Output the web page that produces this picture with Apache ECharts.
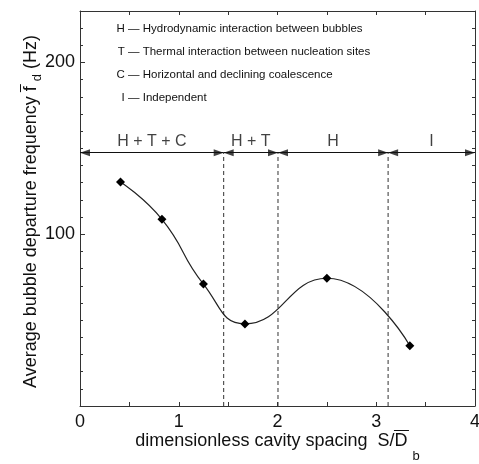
<!DOCTYPE html>
<html>
<head>
<meta charset="utf-8">
<script src="https://cdn.jsdelivr.net/npm/echarts@6/dist/echarts.min.js"></script>
<style>
  html, body { margin: 0; padding: 0; background: #fff; }
  #chart { width: 479px; height: 464px; }
</style>
</head>
<body>
<div id="chart"></div>
<script>
// Measured bubble departure frequency against dimensionless cavity spacing
const spacing   = [0.41, 0.83, 1.25, 1.67, 2.50, 3.34];
const frequency = [130.5, 108.7, 71.0, 47.8, 74.4, 35.1];

// Interaction regimes: boundaries along S/D and their labels
const boundaries   = [1.455, 2.005, 3.12];
const regionLabels = ['H + T + C', 'H + T', 'H', 'I'];
const regionLevel  = 147.5;

// Key to the regime abbreviations
const noteKeys  = ['H', 'T', 'C', 'I'];
const noteTexts = [
  '— Hydrodynamic interaction between bubbles',
  '— Thermal interaction between nucleation sites',
  '— Horizontal and declining coalescence',
  '— Independent'
];

// Axis ranges and labelled ticks
const xRange = [0, 4];
const yRange = [0, 230];
const xLabelTicks = [0, 1, 2, 3, 4];
const yLabelTicks = [100, 200];

const FONT = '"Liberation Sans", Arial, Helvetica, sans-serif';
const INK = '#111';

const chart = echarts.init(document.getElementById('chart'), null, { renderer: 'canvas' });

const edges = [xRange[0], ...boundaries, xRange[1]];
const regionMid = regionLabels.map((_, i) => [(edges[i] + edges[i + 1]) / 2, regionLevel]);
const spanData = regionLabels.map((_, i) => [
  { coord: [edges[i], regionLevel] },
  { coord: [edges[i + 1], regionLevel] }
]);
// arrowheads: each span points left at its start and right at its end
const headsLeft  = edges.slice(0, -1).map(x => [x, regionLevel]);
const headsRight = edges.slice(1).map(x => [x, regionLevel]);
const HEAD = [7, 10];

// text measurement for composing titles with overbars and subscripts
const mctx = document.createElement('canvas').getContext('2d');
function measure(text, size) {
  mctx.font = size + 'px ' + FONT;
  return mctx.measureText(text).width;
}
function txt(text, x, y, size, align) {
  return {
    type: 'text', x: x, y: y, silent: true,
    style: { text: text, font: size + 'px ' + FONT, fill: INK, align: align || 'left', verticalAlign: 'middle' }
  };
}
function bar(x1, x2, y) {
  return { type: 'line', silent: true, shape: { x1: x1, y1: y, x2: x2, y2: y }, style: { stroke: INK, lineWidth: 1 } };
}

const gridBox = { left: 80, right: 4, top: 11, bottom: 58 };
const W = 479, H = 464;

// x-axis title: dimensionless cavity spacing  S/D̄ b
const xt = { main: 'dimensionless cavity spacing  S/', barred: 'D', sub: 'b' };
const xs = 18, xsubs = 13;
const xw1 = measure(xt.main, xs), xwD = measure(xt.barred, xs), xwsp = measure(' ', xs), xwb = measure(xt.sub, xsubs);
const xTot = xw1 + xwD + xwsp + xwb;
const xCenter = gridBox.left + (W - gridBox.left - gridBox.right) / 2;
const x0 = xCenter - xTot / 2;
const xY = 441;
const xTitle = [
  txt(xt.main, x0, xY, xs),
  txt(xt.barred, x0 + xw1, xY, xs),
  bar(x0 + xw1 - 0.5, x0 + xw1 + xwD + 1.5, xY - 10.5),
  txt(xt.sub, x0 + xw1 + xwD + xwsp, xY + 15, xsubs)
];

// y-axis title: Average bubble departure frequency f̄ d (Hz)
const yt = { main: 'Average bubble departure frequency ', barred: 'f', sub: 'd', tail: ' (Hz)' };
const ys = 18, ysubs = 13;
const yw1 = measure(yt.main, ys), ywf = measure(yt.barred, ys), ywsp = measure(' ', ys), ywd = measure(yt.sub, ysubs);
const ywt = measure(yt.tail, ys);
const yTot = yw1 + ywf + ywsp + ywd + ywt;
const yCenter = gridBox.top + (H - gridBox.top - gridBox.bottom) / 2 + 3;
const yTitle = {
  type: 'group', x: 31, y: yCenter + yTot / 2, rotation: Math.PI / 2, silent: true,
  children: [
    txt(yt.main, 0, 0, ys),
    txt(yt.barred, yw1, 0, ys),
    bar(yw1 - 1, yw1 + ywf + 2, -10.5),
    txt(yt.sub, yw1 + ywf + ywsp, 6, ysubs),
    txt(yt.tail, yw1 + ywf + ywsp + ywd, 0, ys)
  ]
};

// key to the abbreviations
const noteY0 = 29, noteStep = 22.8, keyRight = 124.8, noteLeft = 128;
const notes = [];
noteKeys.forEach((k, i) => {
  notes.push(txt(k, keyRight, noteY0 + i * noteStep, 11.5, 'right'));
  notes.push(txt(noteTexts[i], noteLeft, noteY0 + i * noteStep, 11.5));
});

const axisLine = { show: true, onZero: false, lineStyle: { color: '#333', width: 1 } };

const option = {
  backgroundColor: '#fff',
  animation: false,
  grid: Object.assign({ containLabel: false, outerBoundsMode: 'none' }, gridBox),
  xAxis: [
    {
      type: 'value', position: 'bottom', min: xRange[0], max: xRange[1], interval: 0.5,
      axisLine: axisLine,
      axisTick: { show: true, inside: true, length: 4, lineStyle: { color: '#333' } },
      axisLabel: {
        show: true, margin: 7, color: INK, fontSize: 18, fontFamily: FONT,
        formatter: v => (xLabelTicks.includes(v) ? String(v) : '')
      },
      splitLine: { show: false }
    },
    {
      type: 'value', position: 'top', min: xRange[0], max: xRange[1], interval: 0.5,
      axisLine: axisLine,
      axisTick: { show: true, inside: true, length: 4, lineStyle: { color: '#333' } },
      axisLabel: { show: false },
      splitLine: { show: false }
    }
  ],
  yAxis: [
    {
      type: 'value', position: 'left', min: yRange[0], max: yRange[1], interval: 100,
      axisLine: axisLine,
      axisTick: { show: true, inside: true, length: 5, lineStyle: { color: '#333' } },
      axisLabel: {
        show: true, margin: 5, color: INK, fontSize: 18, fontFamily: FONT,
        formatter: v => (yLabelTicks.includes(v) ? String(v) : '')
      },
      splitLine: { show: false }
    },
    {
      type: 'value', position: 'left', min: yRange[0], max: yRange[1], interval: 10,
      axisLine: { show: false, onZero: false },
      axisTick: { show: true, inside: true, length: 3, lineStyle: { color: '#333' } },
      axisLabel: { show: false },
      splitLine: { show: false }
    },
    {
      type: 'value', position: 'right', min: yRange[0], max: yRange[1], interval: 10,
      axisLine: axisLine,
      axisTick: { show: true, inside: true, length: 3, lineStyle: { color: '#333' } },
      axisLabel: { show: false },
      splitLine: { show: false }
    }
  ],
  series: [
    {
      name: 'frequency', type: 'line', xAxisIndex: 0, yAxisIndex: 0,
      data: spacing.map((x, i) => [x, frequency[i]]),
      smooth: 0.5,
      symbol: 'diamond', symbolSize: 9,
      itemStyle: { color: '#000' },
      lineStyle: { color: '#222', width: 1.2 },
      z: 5
    },
    ...boundaries.map(b => ({
      type: 'line', xAxisIndex: 0, yAxisIndex: 0,
      data: [[b, yRange[0]], [b, regionLevel]],
      symbol: 'none',
      lineStyle: { color: '#333', width: 1, type: [4, 3] },
      z: 3
    })),
    {
      name: 'regions', type: 'scatter', xAxisIndex: 0, yAxisIndex: 0,
      data: regionMid,
      symbolSize: 0,
      label: {
        show: true, position: 'top', distance: 3, color: INK, fontSize: 16, fontFamily: FONT,
        formatter: p => regionLabels[p.dataIndex]
      },
      markLine: {
        silent: true, animation: false,
        symbol: ['none', 'none'],
        lineStyle: { color: '#111', width: 1, type: 'solid' },
        label: { show: false },
        data: spanData
      },
      z: 4
    },
    {
      name: 'headsLeft', type: 'scatter', xAxisIndex: 0, yAxisIndex: 0,
      data: headsLeft,
      symbol: 'triangle', symbolSize: HEAD, symbolRotate: 90, symbolOffset: [HEAD[1] / 2, 0],
      itemStyle: { color: '#111' },
      silent: true, z: 6
    },
    {
      name: 'headsRight', type: 'scatter', xAxisIndex: 0, yAxisIndex: 0,
      data: headsRight,
      symbol: 'triangle', symbolSize: HEAD, symbolRotate: -90, symbolOffset: [-HEAD[1] / 2, 0],
      itemStyle: { color: '#111' },
      silent: true, z: 6
    }
  ],
  graphic: [...xTitle, yTitle, ...notes]
};

chart.setOption(option);
</script>
</body>
</html>
